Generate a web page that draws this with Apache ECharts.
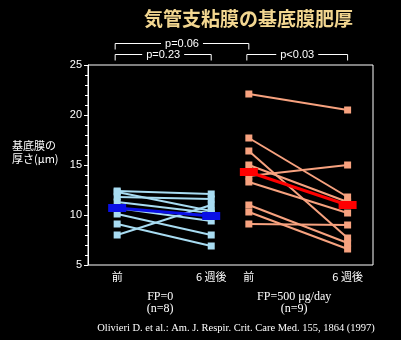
<!DOCTYPE html>
<html><head><meta charset="utf-8">
<script src="https://cdn.jsdelivr.net/npm/echarts@6/dist/echarts.min.js"></script>
<style>html,body{margin:0;padding:0;background:#000;}#c{width:401px;height:340px;}</style>
</head><body><div id="c"></div>
<script>
// ---- data ----
const title = '気管支粘膜の基底膜肥厚';
const xLabels = ['前', '6 週後', '前', '6 週後'];
const xSlots = [0, 1, 1.4, 2.45];          // axis positions of the four time points
const fp0Pre  = [12.4, 12.3, 11.8, 11.3, 10.7, 10.1, 9.1, 8.0];
const fp0Post = [12.1, 10.4, 11.6, 10.2, 9.4, 8.0, 6.9, 11.0];
const fp500Pre  = [22.1, 17.7, 16.4, 15.0, 13.9, 13.3, 11.0, 10.3, 9.1];
const fp500Post = [20.5, 11.8, 7.7, 11.3, 15.0, 10.2, 7.2, 6.6, 9.0];
const fp0Mean = [10.7, 9.9];
const fp500Mean = [14.3, 11.0];
const groupNames = ['FP=0', 'FP=500 μg/day'];
const groupN = ['(n=8)', '(n=9)'];
const pValues = ['p=0.06', 'p=0.23', 'p<0.03'];
const yTitle = '基底膜の\n厚さ(μm)';
const citation = 'Olivieri D. et al.: Am. J. Respir. Crit. Care Med. 155, 1864 (1997)';

const C0 = '#a8dcf2', C0M = '#0a10e6', C1 = '#f7a27f', C1M = '#ff0000';

const chart = echarts.init(document.getElementById('c'), null, {renderer: 'canvas'});
const series = [];
function addPairs(pre, post, xa, xb, color) {
  pre.forEach((v, i) => {
    series.push({
      type: 'line', data: [[xSlots[xa], v], [xSlots[xb], post[i]]],
      symbol: 'rect', symbolSize: 7, showSymbol: true,
      lineStyle: {color: color, width: 2}, itemStyle: {color: color},
      z: 2, animation: false, silent: true
    });
  });
}
addPairs(fp0Pre, fp0Post, 0, 1, C0);
addPairs(fp500Pre, fp500Post, 2, 3, C1);
function addMean(m, xa, xb, color) {
  series.push({
    type: 'line', data: [[xSlots[xa], m[0]], [xSlots[xb], m[1]]],
    symbol: 'rect', symbolSize: [18, 8],
    lineStyle: {color: color, width: 3}, itemStyle: {color: color},
    z: 5, animation: false, silent: true
  });
}
addMean(fp0Mean, 0, 1, C0M);
addMean(fp500Mean, 2, 3, C1M);

chart.setOption({
  backgroundColor: '#000',
  animation: false,
  title: {
    text: title, left: 139, top: 4,
    textStyle: {color: '#f2d690', fontSize: 19, fontWeight: 'bold', fontFamily: 'Noto Sans CJK JP'}
  },
  grid: {left: 88, top: 65, width: 285, height: 200, show: true, borderColor: '#fff', borderWidth: 1, backgroundColor: '#000'},
  xAxis: {
    type: 'value', min: -0.31, max: 2.72,
    axisLine: {show: false}, axisTick: {show: false}, splitLine: {show: false},
    axisLabel: {
      customValues: xSlots, color: '#fff', fontSize: 11, margin: 6,
      fontFamily: 'Noto Sans CJK JP',
      formatter: v => { const i = xSlots.findIndex(s => Math.abs(s - v) < 1e-6); return i >= 0 ? xLabels[i] : ''; }
    }
  },
  yAxis: {
    type: 'value', min: 5, max: 25, interval: 5,
    axisLine: {show: true, onZero: false, lineStyle: {color: '#fff', width: 1}},
    axisTick: {show: true, length: 4, lineStyle: {color: '#fff'}},
    minorTick: {show: true, splitNumber: 5, length: 3, lineStyle: {color: '#fff'}},
    splitLine: {show: false},
    axisLabel: {color: '#fff', fontSize: 11, margin: 6, fontFamily: 'Liberation Sans'}
  },
  series: series
});

// annotations positioned through the axes
const px = (x, y) => chart.convertToPixel({gridIndex: 0}, [x, y]);
const gridTop = px(0, 25)[1];
const g = [];
function bracket(xa, xb, y, label) {
  const a = px(xSlots[xa], 25)[0] - 2, b = px(xSlots[xb], 25)[0];
  g.push({type: 'polyline', shape: {points: [[a, y + 6], [a, y], [b, y], [b, y + 6]]},
          style: {stroke: '#fff', lineWidth: 1, fill: null}});
  g.push({type: 'text', x: (a + b) / 2, y: y, style: {
    text: label, fill: '#fff', font: '11px "Liberation Sans"', align: 'center', verticalAlign: 'middle',
    backgroundColor: '#000', padding: [0, 4]}});
}
bracket(0, 2, gridTop - 21.5, pValues[0]);
bracket(0, 1, gridTop - 10.5, pValues[1]);
bracket(2, 3, gridTop - 10.5, pValues[2]);

const gridBottom = px(0, 5)[1];
[[0, 1], [2, 3]].forEach((pair, k) => {
  const cx = (px(xSlots[pair[0]], 5)[0] + px(xSlots[pair[1]], 5)[0]) / 2 - 4;
  g.push({type: 'text', x: cx, y: gridBottom + 32, style: {text: groupNames[k], fill: '#fff',
    font: '12px "Liberation Serif"', align: 'center', verticalAlign: 'middle'}});
  g.push({type: 'text', x: cx, y: gridBottom + 44, style: {text: groupN[k], fill: '#fff',
    font: '12px "Liberation Serif"', align: 'center', verticalAlign: 'middle'}});
});
g.push({type: 'text', x: 236, y: gridBottom + 63, style: {text: citation, fill: '#fff',
  font: '10.5px "Liberation Serif"', align: 'center', verticalAlign: 'middle'}});
g.push({type: 'text', x: 12, y: 152, style: {text: yTitle, fill: '#fff',
  font: '11px "Noto Sans CJK JP"', lineHeight: 13, align: 'left', verticalAlign: 'middle'}});
chart.setOption({graphic: g});
</script>
</body></html>
